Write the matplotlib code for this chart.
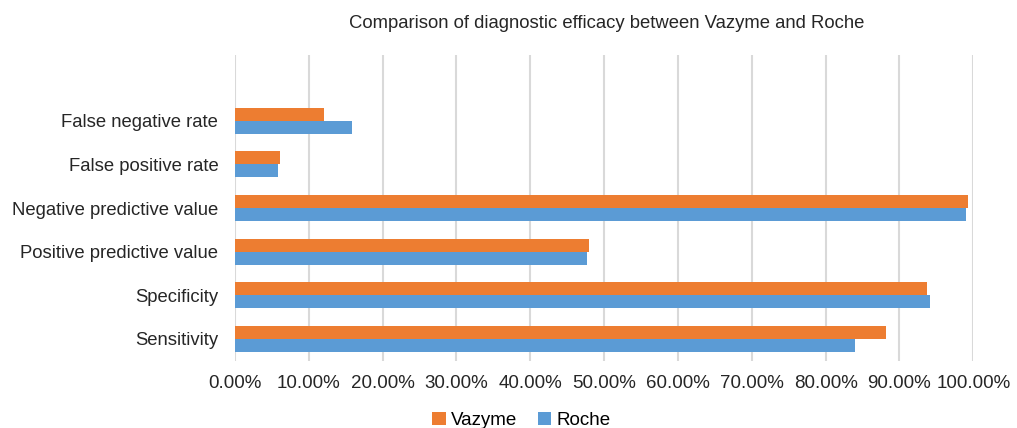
import numpy as np
import matplotlib
matplotlib.use("Agg")
import matplotlib.pyplot as plt
from matplotlib.ticker import FuncFormatter

plt.rcParams['font.family'] = ['Liberation Sans', 'DejaVu Sans']

categories = ["Sensitivity", "Specificity", "Positive predictive value",
              "Negative predictive value", "False positive rate", "False negative rate"]
vazyme = [88.2, 93.8, 47.9, 99.3, 6.1, 12.0]
roche = [84.0, 94.1, 47.7, 99.0, 5.9, 15.9]
xticks = np.arange(0, 101, 10)

ORANGE = "#ED7D31"
BLUE = "#5B9BD5"

fig = plt.figure(figsize=(10.17, 4.28), dpi=100)
ax = fig.add_axes([0.231, 0.157, 0.726, 0.714])

y = np.arange(len(categories))
h = 0.3
ax.barh(y + h / 2, vazyme, height=h, color=ORANGE, label="Vazyme", zorder=3)
ax.barh(y - h / 2, roche, height=h, color=BLUE, label="Roche", zorder=3)

ax.set_xlim(0, 100)
ax.set_ylim(-0.5, 6.5)
ax.set_xticks(xticks)
ax.xaxis.set_major_formatter(FuncFormatter(lambda v, p: "%.2f%%" % v))
ax.set_yticks(y)
ax.set_yticklabels(categories)
ax.grid(axis="x", color="#D9D9D9", linewidth=1.5, zorder=0)
for s in ax.spines.values():
    s.set_visible(False)
ax.tick_params(axis="both", length=0, colors="#262626")
ax.tick_params(axis="x", pad=10, labelsize=13.5)
ax.tick_params(axis="y", pad=12, labelsize=13.3)

fig.text(0.597, 0.945, "Comparison of diagnostic efficacy between Vazyme and Roche",
         ha="center", va="center", fontsize=13.3, color="#262626")

fig.legend(loc="center", bbox_to_anchor=(0.513, 0.018), ncol=2, frameon=False,
           fontsize=13.5, handlelength=0.7, handleheight=0.7, handletextpad=0.3,
           columnspacing=1.1)

fig.savefig("out.png", dpi=100)
